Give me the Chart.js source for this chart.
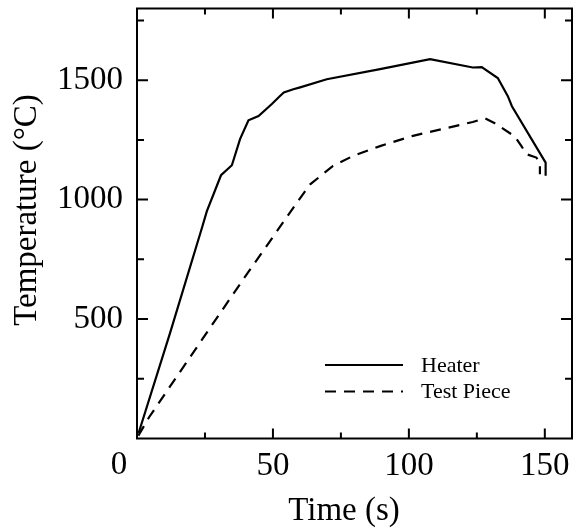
<!DOCTYPE html>
<html>
<head>
<meta charset="utf-8">
<script src="https://cdn.jsdelivr.net/npm/chart.js@4.4.1/dist/chart.umd.min.js"></script>
<style>
	html, body { margin: 0; padding: 0; background: #fff; }
	#wrap { width: 573px; height: 532px; }
</style>
</head>
<body>
<div id="wrap"><canvas id="grafico"></canvas></div>
<script>
var heaterTime = [0.6, 12.2, 23.9, 25.7, 30.9, 34.9, 37.9, 41.0, 44.7, 49.6, 52.6, 54.0, 57.5, 60.0, 69.8, 89.4, 107.8, 123.5, 126.8, 132.7, 136.4, 137.9, 150.3, 150.3];
var heaterTemp = [23, 443, 882, 952, 1102, 1144, 1253, 1332, 1350, 1400, 1434, 1449, 1462, 1470, 1504, 1546, 1588, 1553, 1555, 1509, 1433, 1391, 1155, 1100];
var pieceTime = [0.5, 4.5, 24.4, 39.0, 58.8, 63.7, 72.1, 79.5, 89.4, 101.5, 123.5, 128.0, 131.6, 139.0, 141.4, 143.3, 146.9, 148.2, 148.2];
var pieceTemp = [12, 90, 422, 665, 987, 1064, 1141, 1183, 1224, 1267, 1325, 1340, 1320, 1264, 1224, 1190, 1176, 1155, 1106];
var seriesNames = ["Heater", "Test Piece"];
var xTicks = [0, 25, 50, 75, 100, 125, 150];
var xLabels = [50, 100, 150];
var yTicks = [250, 500, 750, 1000, 1250, 1500, 1750];
var yLabels = [500, 1000, 1500];
var xTitle = "Time (s)";
var yTitle = "Temperature (\u00B0C)";
var originLabel = "0";

var serif = "'Liberation Serif', 'Times New Roman', serif";

function pontos(xs, ys) {
	var arr = [];
	for (var i = 0; i < xs.length; i++) {
		arr.push({ x: xs[i], y: ys[i] });
	}
	return arr;
}

function semPadding(s) {
	s.paddingTop = 0;
	s.paddingBottom = 0;
	s.paddingLeft = 0;
	s.paddingRight = 0;
}

// moldura, ticks para dentro, titulos e legenda
var molduraPlugin = {
	id: "moldura",
	afterDraw: function (chart) {
		var ctx = chart.ctx;
		var a = chart.chartArea;
		var sx = chart.scales.x;
		var sy = chart.scales.y;
		ctx.save();
		ctx.strokeStyle = "#000";
		ctx.lineWidth = 2;
		ctx.strokeRect(a.left, a.top, a.right - a.left, a.bottom - a.top);

		ctx.beginPath();
		xTicks.forEach(function (v) {
			var px = sx.getPixelForValue(v);
			var len = xLabels.indexOf(v) >= 0 ? 10 : 6;
			ctx.moveTo(px, a.bottom);
			ctx.lineTo(px, a.bottom - len);
			ctx.moveTo(px, a.top);
			ctx.lineTo(px, a.top + len);
		});
		yTicks.forEach(function (v) {
			var py = sy.getPixelForValue(v);
			var len = yLabels.indexOf(v) >= 0 ? 11 : 7;
			ctx.moveTo(a.left, py);
			ctx.lineTo(a.left + len, py);
			ctx.moveTo(a.right, py);
			ctx.lineTo(a.right - len, py);
		});
		ctx.stroke();

		ctx.fillStyle = "#000";
		ctx.font = "33px " + serif;
		ctx.textAlign = "center";
		ctx.textBaseline = "alphabetic";
		ctx.fillText(originLabel, sx.getPixelForValue(0) - 18, 474);
		ctx.fillText(xTitle, 344, 520);

		ctx.save();
		ctx.translate(36, 210);
		ctx.rotate(-Math.PI / 2);
		ctx.fillText(yTitle, 0, 0);
		ctx.restore();

		// legenda
		ctx.font = "22px " + serif;
		ctx.textAlign = "left";
		ctx.textBaseline = "middle";
		chart.data.datasets.forEach(function (ds, i) {
			var y = 365 + i * 26.5;
			ctx.beginPath();
			ctx.lineWidth = ds.borderWidth;
			ctx.setLineDash(ds.borderDash || []);
			ctx.moveTo(325, y);
			ctx.lineTo(403, y);
			ctx.stroke();
			ctx.setLineDash([]);
			ctx.fillText(ds.label, 421, y + 1);
		});
		ctx.restore();
	}
};

var config = {
	type: "line",
	data: {
		datasets: [
			{
				label: seriesNames[0],
				data: pontos(heaterTime, heaterTemp),
				borderColor: "#000",
				borderWidth: 2.2,
				pointRadius: 0,
				tension: 0,
				fill: false,
			},
			{
				label: seriesNames[1],
				data: pontos(pieceTime, pieceTemp),
				borderColor: "#000",
				borderWidth: 2.2,
				borderDash: [11, 8],
				pointRadius: 0,
				tension: 0,
				fill: false,
			},
		],
	},
	options: {
		responsive: true,
		maintainAspectRatio: false,
		animation: false,
		layout: {
			padding: { top: 8.5, right: 1, left: 0, bottom: 0 },
		},
		plugins: {
			legend: { display: false },
			title: { display: false },
			tooltip: { enabled: false },
		},
		scales: {
			x: {
				type: "linear",
				min: 0,
				max: 160,
				grid: { display: false },
				border: { display: false },
				afterBuildTicks: function (s) {
					s.ticks = xLabels.map(function (v) { return { value: v }; });
				},
				ticks: {
					autoSkip: false,
					maxRotation: 0,
					padding: 0,
					color: "#000",
					font: { family: serif, size: 33 },
					callback: function (v) { return String(v); },
				},
				afterFit: function (s) {
					s.height = 93.5;
					semPadding(s);
				},
			},
			y: {
				type: "linear",
				min: 0,
				max: 1800,
				grid: { display: false },
				border: { display: false },
				afterBuildTicks: function (s) {
					s.ticks = yLabels.map(function (v) { return { value: v }; });
				},
				ticks: {
					autoSkip: false,
					padding: 6,
					color: "#000",
					font: { family: serif, size: 33 },
					callback: function (v) { return String(v); },
				},
				afterFit: function (s) {
					s.width = 137;
					semPadding(s);
				},
			},
		},
	},
	plugins: [molduraPlugin],
};

var ctx = document.getElementById("grafico").getContext("2d");
window.grafico = new Chart(ctx, config);
</script>
</body>
</html>
